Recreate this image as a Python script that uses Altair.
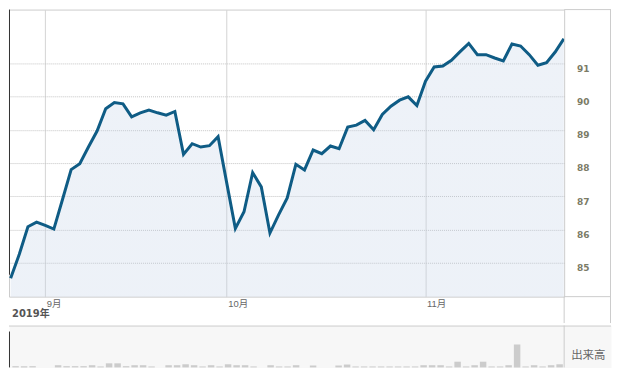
import altair as alt
import pandas as pd

# ---- data ----
price = [84.53, 85.25, 86.08, 86.22, 86.12, 86.01, 86.90, 87.80, 87.98, 88.48,
         88.96, 89.63, 89.82, 89.78, 89.39, 89.51, 89.59, 89.51, 89.44, 89.55,
         88.26, 88.58, 88.48, 88.52, 88.79, 87.40, 86.03, 86.53, 87.71, 87.28,
         85.89, 86.44, 86.95, 87.96, 87.79, 88.39, 88.28, 88.51, 88.43, 89.08,
         89.14, 89.28, 89.00, 89.46, 89.71, 89.89, 89.99, 89.73, 90.46, 90.89,
         90.92, 91.09, 91.35, 91.60, 91.26, 91.26, 91.16, 91.07, 91.58, 91.52,
         91.26, 90.94, 91.02, 91.34, 91.74]
volume = [1.3, 1.3, 1.3, 0, 0, 2.3, 1.3, 1.3, 1.3, 2.3,
          1.0, 4.3, 4.3, 1.3, 2.3, 2.3, 1.0, 0, 2.3, 2.3,
          3.3, 2.3, 1.0, 2.3, 1.0, 3.3, 2.3, 2.3, 1.0, 0,
          2.3, 1.0, 1.0, 2.3, 0, 2.0, 0, 0, 2.0, 3.0,
          1.0, 1.0, 1.0, 1.0, 1.0, 1.0, 1.0, 1.0, 2.3, 2.3,
          2.3, 1.0, 6.0, 1.0, 2.3, 6.0, 1.0, 1.0, 2.3, 24.0,
          1.0, 2.3, 1.0, 2.3, 3.3]
month_ticks = [4, 25, 48]
month_labels = ["9月", "10月", "11月"]
y_ticks = [85, 86, 87, 88, 89, 90, 91]
year_label = "2019年"
vol_label = "出来高"

df = pd.DataFrame({"i": list(range(len(price))), "price": price, "vol": volume})
one = pd.DataFrame({"t": [vol_label]})

# ---- layout ----
W, H = 557, 288          # main plot area
AX = 27                  # height of x-axis band
FULLW = 604
VOLH = 42
X0, X1 = -0.19, 64.04
XV1 = X0 + (X1 - X0) * FULLW / W
Y0, Y1 = 83.976, 92.617
GRID = "#cccccc"
EDGE = "#333333"

label_expr = " : ".join(
    f"datum.value == {t} ? '{l}'" for t, l in zip(month_ticks, month_labels)
) + " : ''"

xs = alt.Scale(domain=[X0, X1], nice=False, zero=False)
ys = alt.Scale(domain=[Y0, Y1], nice=False, zero=False)

x_axis = alt.Axis(
    values=month_ticks, labelExpr=label_expr, grid=True, gridColor="#d4d4d4",
    gridWidth=1, ticks=False, domain=False, labelAlign="left", labelBaseline="top",
    labelPadding=2, labelOffset=1, labelFlush=False, labelOverlap=False,
    labelFont="Liberation Sans, Noto Sans CJK JP", labelFontSize=9.5, labelColor="#666666",
    title=year_label, titleAnchor="start", titleAlign="left", titleBaseline="top",
    titleX=2.5, titleY=12, titleFont="DejaVu Sans, Noto Sans CJK JP",
    titleFontWeight="bold", titleFontSize=10, titleColor="#555555",
)
y_axis = alt.Axis(
    orient="right", values=y_ticks, grid=True, gridDash=[1, 1], gridColor="#c4c4c4",
    ticks=False, domain=False, labelAlign="left", labelBaseline="top",
    labelPadding=12.5, labelOffset=1, labelFlush=False, labelOverlap=False,
    labelFont="DejaVu Sans", labelFontWeight="bold", labelFontSize=9,
    labelColor="#7b7b66", title=None,
)

base = alt.Chart(df)
area = base.mark_area(
    clip=True, fillOpacity=0.3,
    color=alt.Gradient(gradient="linear", x1=1, x2=1, y1=0, y2=1,
                       stops=[alt.GradientStop(offset=0, color="#c6d4e8"),
                              alt.GradientStop(offset=1, color="#a5bcda")]),
).encode(x=alt.X("i:Q", scale=xs, axis=x_axis), y=alt.Y("price:Q", scale=ys, axis=y_axis))
line = base.mark_line(color="#0f5c85", strokeWidth=3, clip=True).encode(
    x=alt.X("i:Q", scale=xs), y=alt.Y("price:Q", scale=ys))

frame = alt.Chart(one)
r_right = frame.mark_rule(color=GRID, strokeWidth=1).encode(
    x=alt.value(W), y=alt.value(H), y2=alt.value(H + AX - 0.5))
r_bottom = frame.mark_rule(color=GRID, strokeWidth=1).encode(
    x=alt.value(W), x2=alt.value(FULLW), y=alt.value(H))
r_top = frame.mark_rule(color=GRID, strokeWidth=1).encode(
    x=alt.value(W), x2=alt.value(FULLW), y=alt.value(0))
r_outer = frame.mark_rule(color=GRID, strokeWidth=1).encode(
    x=alt.value(FULLW - 0.5), y=alt.value(0), y2=alt.value(H + AX - 0.5))
r_left = frame.mark_rule(color=EDGE, strokeWidth=1).encode(
    x=alt.value(0.5), y=alt.value(0), y2=alt.value(266))

main = alt.layer(area, line, r_right, r_bottom, r_top, r_outer, r_left).properties(
    width=W, height=H,
    view=alt.ViewBackground(stroke=GRID, strokeWidth=1, fill="white"),
)

bars = base.mark_bar(color="#cccccc", size=6.5).encode(
    x=alt.X("i:Q", scale=alt.Scale(domain=[X0, XV1], nice=False, zero=False), axis=None),
    y=alt.Y("vol:Q", scale=alt.Scale(domain=[0, 44], nice=False), axis=None),
)
v_top = frame.mark_rule(color=GRID, strokeWidth=1).encode(
    x=alt.value(0), x2=alt.value(FULLW), y=alt.value(0.5))
v_right = frame.mark_rule(color=GRID, strokeWidth=1).encode(
    x=alt.value(W), y=alt.value(0), y2=alt.value(VOLH))
v_left = frame.mark_rule(color=EDGE, strokeWidth=1).encode(
    x=alt.value(0.5), y=alt.value(6), y2=alt.value(VOLH))
v_text = frame.mark_text(align="left", baseline="middle", font="Noto Sans CJK JP",
                         fontSize=11.5, color="#666666").encode(
    text="t:N", x=alt.value(564), y=alt.value(30.5))

vol = alt.layer(bars, v_top, v_right, v_left, v_text).properties(
    width=FULLW, height=VOLH,
    view=alt.ViewBackground(fill="#f7f7f7", stroke="transparent"),
)

chart = alt.vconcat(main, vol, spacing=0).properties(padding=0).configure(
    background="white")

chart.save("out.html", embed_options={"renderer": "svg", "actions": False})
